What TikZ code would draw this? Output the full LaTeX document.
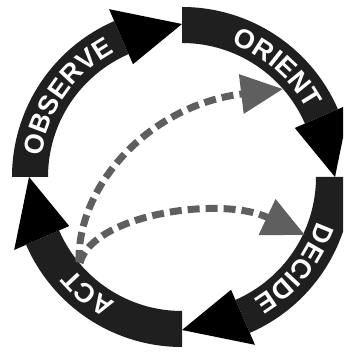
\documentclass[tikz,border=0pt]{standalone}
\usepackage{fontspec}
\setmainfont{Liberation Sans}
\usetikzlibrary{decorations.text,calc,arrows.meta}
\definecolor{bandcol}{gray}{0.12}
\definecolor{dashcol}{RGB}{95,95,95}
\begin{document}
\begin{tikzpicture}[x=1pt,y=1pt,
  band/.style={fill=bandcol},
  head/.style={fill=black},
  feedback/.style={draw=dashcol, line width=7pt, dash pattern=on 12pt off 6pt,
    -{Triangle[length=42pt,width=38pt]}},
  ringlabel/.style={decorate, decoration={text along path, text align=center,
    text={|\fontsize{27}{32}\selectfont\bfseries\color{white}|#1}}}
]
\useasboundingbox (0,0) rectangle (343,352);
\clip (0,0) rectangle (343,352);
\coordinate (C) at (182,175);
\def\Ro{170}\def\Ri{134}\def\Rm{153}\def\Ho{183}\def\Hi{123}
% segments: start angle, band end angle, tip angle
\foreach \s/\b/\t in {180/113.5/90, 90/23.5/0, 0/-66.5/-90, -90/-156.5/-180}{
  \fill[band] ($(C)+(\s:\Ro)$) arc[start angle=\s, end angle=\b, radius=\Ro]
     -- ($(C)+(\b:\Ri)$) arc[start angle=\b, end angle=\s, radius=\Ri] -- cycle;
  \fill[head] ($(C)+(\b:\Ho)$) -- ($(C)+(\t:\Rm)$) -- ($(C)+(\b:\Hi)$) -- cycle;
}
\path[ringlabel=OBSERVE] ($(C)+(185:142)$) arc[start angle=185, end angle=105, radius=142];
\path[ringlabel=ORIENT] ($(C)+(89:142)$) arc[start angle=89, end angle=9, radius=142];
\path[ringlabel=DECIDE] ($(C)+(1:142)$) arc[start angle=1, end angle=-79, radius=142];
\path[ringlabel=ACT] ($(C)+(-89:142)$) arc[start angle=-89, end angle=-169, radius=142];
% feedback arrows
\coordinate (act) at (79,90);
\coordinate (orient) at (283,263);
\coordinate (decide) at (305,117);
\draw[feedback] (act) .. controls (77,167) and (150,247) .. (orient);
\draw[feedback] (80,89) .. controls (92,137) and (220,157) .. (decide);
\end{tikzpicture}
\end{document}
